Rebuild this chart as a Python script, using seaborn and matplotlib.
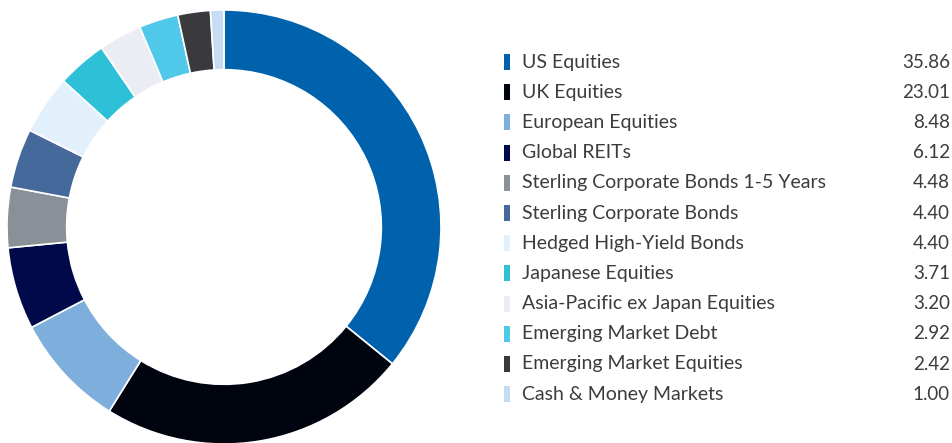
import matplotlib
matplotlib.use("Agg")
import matplotlib.pyplot as plt
from matplotlib.patches import Rectangle
import seaborn as sns

categories = [
    "US Equities", "UK Equities", "European Equities", "Global REITs",
    "Sterling Corporate Bonds 1-5 Years", "Sterling Corporate Bonds",
    "Hedged High-Yield Bonds", "Japanese Equities",
    "Asia-Pacific ex Japan Equities", "Emerging Market Debt",
    "Emerging Market Equities", "Cash & Money Markets",
]
weights = [35.86, 23.01, 8.48, 6.12, 4.48, 4.40, 4.40, 3.71, 3.20, 2.92, 2.42, 1.00]
value_labels = ["35.86", "23.01", "8.48", "6.12", "4.48", "4.40", "4.40",
                "3.71", "3.20", "2.92", "2.42", "1.00"]
colors = ["#0062AD", "#00040F", "#7DAEDC", "#000A4A", "#8A9098", "#46699B",
          "#E2F0FB", "#2EC0D6", "#ECECF4", "#50C8EA", "#3A393E", "#C5DCF2"]

sns.set_theme(style="white")
plt.rcParams["font.family"] = ["Lato", "DejaVu Sans"]
palette = sns.color_palette(colors)

W, H = 952, 443
fig = plt.figure(figsize=(W / 100, H / 100), dpi=100)
fig.patch.set_facecolor("white")

# donut
R = 217
cx, cy = 224, 227
ax = fig.add_axes([(cx - R) / W, (H - cy - R) / H, 2 * R / W, 2 * R / H])
ax.pie(weights, colors=palette, startangle=90, counterclock=False, radius=1.0,
       wedgeprops=dict(width=0.275, edgecolor="white", linewidth=1.2))
ax.set_xlim(-1, 1)
ax.set_ylim(-1, 1)
ax.set_aspect("equal")
ax.axis("off")

# legend with values
lax = fig.add_axes([0, 0, 1, 1])
lax.set_xlim(0, W)
lax.set_ylim(H, 0)
lax.axis("off")
y0, dy = 62, 30.2
for i, (name, val, col) in enumerate(zip(categories, value_labels, palette)):
    y = y0 + i * dy
    lax.add_patch(Rectangle((504, y - 8), 6, 16, facecolor=col, edgecolor="none"))
    lax.text(522, y, name, va="center", ha="left", fontsize=14,
             color="#3c3c3c")
    lax.text(950, y, val, va="center", ha="right", fontsize=13.5,
             color="#3c3c3c")

fig.savefig("out.png", dpi=100, facecolor="white")
